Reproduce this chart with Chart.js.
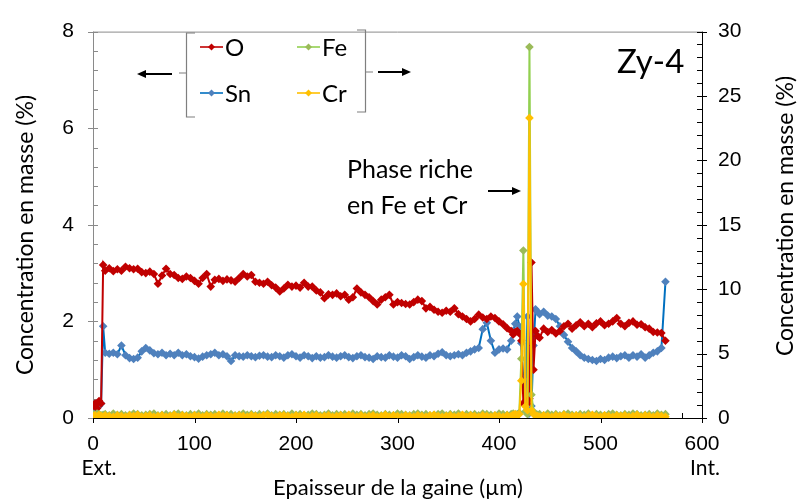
<!DOCTYPE html>
<html>
<head>
<meta charset="utf-8">
<script src="https://cdn.jsdelivr.net/npm/chart.js@4.4.1/dist/chart.umd.min.js"></script>
<style>
  body { margin: 0; background: #fff; }
  #wrap { width: 801px; height: 502px; position: relative; }
</style>
</head>
<body>
<div id="wrap"><canvas id="myChart"></canvas></div>
<script>
// Epaisseur de la gaine (µm)
const positions = [
    0, 2, 4, 6, 8, 10, 12, 16, 20, 24,
    28, 32, 36, 40, 44, 48, 52, 56, 60, 64,
    68, 72, 76, 80, 84, 88, 92, 96, 100, 104,
    108, 112, 116, 120, 124, 128, 132, 136, 140, 144,
    148, 152, 156, 160, 164, 168, 172, 176, 180, 184,
    188, 192, 196, 200, 204, 208, 212, 216, 220, 224,
    228, 232, 236, 240, 244, 248, 252, 256, 260, 264,
    268, 272, 276, 280, 284, 288, 292, 296, 300, 304,
    308, 312, 316, 320, 324, 328, 332, 336, 340, 344,
    348, 352, 356, 360, 364, 368, 372, 376, 380, 384,
    388, 392, 396, 400, 404, 408, 412, 414, 416, 418,
    420, 422, 424, 426, 428, 430, 432, 434, 436, 438,
    440, 444, 448, 452, 456, 460, 464, 468, 472, 476,
    480, 484, 488, 492, 496, 500, 504, 508, 512, 516,
    520, 524, 528, 532, 536, 540, 544, 548, 552, 556,
    560, 564,
];

// O (%) - left axis
const oxygen = [
    0.25, 0.3, 0.2, 0.35, 0.3, 3.17, 3.05, 3.1, 3.04, 3.08,
    3.05, 3.13, 3.1, 3.08, 3.09, 3.02, 3.0, 3.03, 2.98, 2.78,
    2.95, 3.09, 2.98, 2.96, 2.9, 2.88, 2.93, 2.9, 2.84, 2.78,
    2.9, 2.98, 2.72, 2.86, 2.88, 2.84, 2.87, 2.85, 2.82, 2.9,
    2.98, 2.93, 2.96, 2.82, 2.8, 2.78, 2.82, 2.75, 2.7, 2.62,
    2.68, 2.76, 2.72, 2.74, 2.7, 2.8, 2.72, 2.72, 2.64, 2.6,
    2.48, 2.56, 2.55, 2.58, 2.52, 2.55, 2.45, 2.5, 2.68, 2.6,
    2.55, 2.5, 2.42, 2.35, 2.45, 2.5, 2.55, 2.35, 2.4, 2.38,
    2.36, 2.35, 2.4, 2.45, 2.42, 2.27, 2.3, 2.24, 2.2, 2.18,
    2.22, 2.2, 2.27, 2.15, 2.1, 2.05, 2.0, 2.05, 2.14, 2.08,
    2.05, 2.1, 2.07, 2.0, 1.94, 1.86, 1.8, 1.73, 1.78, 1.8,
    1.75, 1.6, 0.3, 0.35, 0.3, 0.4, 3.22, 1.0, 1.8, 1.7,
    1.66, 1.85, 1.78, 1.82, 1.75, 1.8, 1.9, 1.95, 1.85, 1.92,
    1.98, 1.9, 1.95, 1.88, 1.96, 2.0, 1.92, 1.95, 2.0, 2.07,
    1.95, 1.9, 1.97, 2.0, 1.93, 1.94, 1.88, 1.85, 1.78, 1.77,
    1.76, 1.6,
];

// Sn (%) - left axis
const tin = [
    0.15, 0.2, 0.1, 0.25, 0.3, 1.9, 1.35, 1.33, 1.35, 1.32,
    1.5, 1.3, 1.24, 1.22, 1.25, 1.38, 1.45, 1.4, 1.34, 1.32,
    1.35, 1.3, 1.33, 1.3, 1.35, 1.3, 1.32, 1.28, 1.26, 1.23,
    1.27, 1.3, 1.32, 1.35, 1.3, 1.32, 1.28, 1.18, 1.3, 1.28,
    1.27, 1.3, 1.28, 1.26, 1.29, 1.3, 1.27, 1.26, 1.3, 1.28,
    1.25, 1.3, 1.32, 1.28, 1.25, 1.3, 1.28, 1.24, 1.28, 1.25,
    1.26, 1.3, 1.27, 1.25, 1.28, 1.3, 1.26, 1.24, 1.28, 1.3,
    1.26, 1.25, 1.22, 1.28, 1.26, 1.25, 1.3, 1.27, 1.25, 1.3,
    1.28, 1.22, 1.26, 1.3, 1.27, 1.25, 1.3, 1.28, 1.33, 1.36,
    1.3, 1.28, 1.3, 1.32, 1.3, 1.35, 1.38, 1.42, 1.45, 1.84,
    1.97, 1.6, 1.35, 1.42, 1.44, 1.42, 1.6, 1.8, 1.95, 2.1,
    1.9, 1.55, 0.8, 0.3, 2.1, 0.1, 0.25, 1.5, 2.25, 2.2,
    2.15, 2.2, 2.12, 2.1, 2.05, 1.9, 1.72, 1.58, 1.45, 1.38,
    1.3, 1.25, 1.22, 1.2, 1.18, 1.22, 1.2, 1.25, 1.27, 1.24,
    1.28, 1.3, 1.25, 1.3, 1.27, 1.32, 1.25, 1.3, 1.35, 1.38,
    1.45, 2.82,
];

// Fe (%) - right axis
const iron = [
    0.3, 0.25, 0.35, 0.3, 0.2, 0.25, 0.3, 0.2, 0.35, 0.25,
    0.3, 0.2, 0.25, 0.35, 0.3, 0.2, 0.25, 0.3, 0.35, 0.2,
    0.25, 0.3, 0.2, 0.3, 0.35, 0.25, 0.2, 0.3, 0.25, 0.35,
    0.2, 0.3, 0.25, 0.3, 0.2, 0.35, 0.25, 0.3, 0.2, 0.25,
    0.35, 0.25, 0.3, 0.2, 0.3, 0.25, 0.35, 0.2, 0.3, 0.25,
    0.3, 0.2, 0.35, 0.25, 0.3, 0.2, 0.25, 0.35, 0.3, 0.2,
    0.25, 0.35, 0.2, 0.3, 0.25, 0.3, 0.2, 0.35, 0.25, 0.3,
    0.2, 0.3, 0.35, 0.25, 0.2, 0.3, 0.25, 0.2, 0.35, 0.3,
    0.25, 0.2, 0.3, 0.35, 0.25, 0.3, 0.2, 0.25, 0.3, 0.35,
    0.2, 0.3, 0.25, 0.35, 0.2, 0.3, 0.25, 0.3, 0.2, 0.35,
    0.3, 0.25, 0.2, 0.35, 0.3, 0.25, 0.3, 0.35, 0.25, 0.3,
    0.4, 4.6, 13.0, 0.5, 0.3, 28.8, 1.8, 0.5, 0.3, 0.25,
    0.3, 0.2, 0.35, 0.25, 0.3, 0.2, 0.3, 0.35, 0.25, 0.2,
    0.3, 0.25, 0.35, 0.2, 0.3, 0.25, 0.2, 0.3, 0.35, 0.25,
    0.2, 0.3, 0.25, 0.35, 0.3, 0.2, 0.25, 0.3, 0.2, 0.35,
    0.25, 0.3,
];

// Cr (%) - right axis
const chromium = [
    0.15, 0.2, 0.1, 0.25, 0.15, 0.1, 0.2, 0.15, 0.1, 0.2,
    0.15, 0.1, 0.2, 0.15, 0.25, 0.1, 0.15, 0.2, 0.1, 0.15,
    0.2, 0.1, 0.15, 0.25, 0.1, 0.2, 0.15, 0.1, 0.2, 0.15,
    0.1, 0.2, 0.15, 0.1, 0.25, 0.15, 0.2, 0.1, 0.15, 0.2,
    0.15, 0.1, 0.2, 0.15, 0.1, 0.2, 0.25, 0.15, 0.1, 0.2,
    0.2, 0.15, 0.1, 0.2, 0.15, 0.25, 0.1, 0.15, 0.2, 0.1,
    0.15, 0.2, 0.1, 0.15, 0.2, 0.1, 0.25, 0.15, 0.1, 0.2,
    0.1, 0.15, 0.2, 0.1, 0.15, 0.25, 0.1, 0.2, 0.15, 0.1,
    0.2, 0.15, 0.1, 0.2, 0.15, 0.1, 0.2, 0.25, 0.15, 0.1,
    0.15, 0.2, 0.1, 0.15, 0.25, 0.1, 0.2, 0.15, 0.1, 0.2,
    0.15, 0.1, 0.2, 0.15, 0.1, 0.2, 0.15, 0.25, 0.3, 0.2,
    0.3, 2.9, 10.4, 0.9, 0.6, 23.3, 0.6, 0.3, 0.2, 0.15,
    0.1, 0.2, 0.15, 0.1, 0.2, 0.15, 0.25, 0.1, 0.15, 0.2,
    0.15, 0.1, 0.2, 0.25, 0.15, 0.1, 0.2, 0.15, 0.1, 0.2,
    0.15, 0.2, 0.1, 0.15, 0.25, 0.1, 0.2, 0.15, 0.1, 0.2,
    0.15, 0.1,
];

// axis ranges and tick steps
const xRange = [0, 600, 100];
const leftRange = [0, 8, 2];
const rightRange = [0, 30, 5];

const calibri = 'Lato, "Open Sans", sans-serif';
const arial = '"Liberation Sans", Arial, sans-serif';

function points(values) {
    return positions.map((x, i) => ({ x: x, y: values[i] }));
}

function series(label, values, line, marker, axis, order) {
    return {
        label: label,
        data: points(values),
        yAxisID: axis,
        borderColor: line,
        backgroundColor: marker,
        pointBackgroundColor: marker,
        pointBorderColor: marker,
        borderWidth: 2,
        pointStyle: 'rectRot',
        pointRadius: 4.3,
        pointBorderWidth: 0,
        order: order,
    };
}

function arrow(ctx, x1, y, x2) {
    const dir = x2 > x1 ? 1 : -1;
    ctx.strokeStyle = '#000';
    ctx.fillStyle = '#000';
    ctx.lineWidth = 2;
    ctx.beginPath();
    ctx.moveTo(x1, y);
    ctx.lineTo(x2 - dir * 6, y);
    ctx.stroke();
    ctx.beginPath();
    ctx.moveTo(x2, y);
    ctx.lineTo(x2 - dir * 9, y - 4);
    ctx.lineTo(x2 - dir * 9, y + 4);
    ctx.closePath();
    ctx.fill();
}

function legendItem(ctx, x, y, line, marker, label) {
    ctx.strokeStyle = line;
    ctx.lineWidth = 1.6;
    ctx.beginPath();
    ctx.moveTo(x, y);
    ctx.lineTo(x + 23, y);
    ctx.stroke();
    ctx.fillStyle = marker;
    ctx.beginPath();
    ctx.moveTo(x + 11.5, y - 3.5);
    ctx.lineTo(x + 15, y);
    ctx.lineTo(x + 11.5, y + 3.5);
    ctx.lineTo(x + 8, y);
    ctx.closePath();
    ctx.fill();
    ctx.fillStyle = '#000';
    ctx.font = '24px ' + calibri;
    ctx.textAlign = 'left';
    ctx.textBaseline = 'middle';
    ctx.fillText(label, x + 25, y + 1);
}

// axes drawn by hand so that the tick marks point inside like the original
const axesPlugin = {
    id: 'axes',
    beforeDatasetsDraw(chart) {
        const ctx = chart.ctx;
        const { left, right, top, bottom } = chart.chartArea;
        const xs = chart.scales.x, yl = chart.scales.y, yr = chart.scales.y1;
        ctx.save();
        ctx.lineWidth = 1;

        ctx.strokeStyle = '#8a8a8a';
        ctx.beginPath();
        ctx.moveTo(left, top + 0.5); ctx.lineTo(right, top + 0.5);
        ctx.moveTo(left + 0.5, top); ctx.lineTo(left + 0.5, bottom);
        for (let v = leftRange[0]; v <= leftRange[1] + 1e-6; v += 0.4) {
            const y = Math.round(yl.getPixelForValue(v)) + 0.5;
            const major = Math.abs(v / leftRange[2] - Math.round(v / leftRange[2])) < 1e-6;
            ctx.moveTo(major ? left - 5 : left, y);
            ctx.lineTo(left + 5, y);
        }
        ctx.stroke();

        ctx.strokeStyle = '#000';
        ctx.beginPath();
        ctx.moveTo(left, bottom + 0.5); ctx.lineTo(right, bottom + 0.5);
        ctx.moveTo(right + 0.5, top); ctx.lineTo(right + 0.5, bottom);
        for (let v = xRange[0]; v <= xRange[1]; v += 20) {
            const x = Math.round(xs.getPixelForValue(v)) + 0.5;
            const major = v % xRange[2] === 0;
            ctx.moveTo(x, bottom - 5);
            ctx.lineTo(x, major ? bottom + 5 : bottom);
        }
        for (let v = rightRange[0]; v <= rightRange[1]; v += 1) {
            const y = Math.round(yr.getPixelForValue(v)) + 0.5;
            const major = v % rightRange[2] === 0;
            ctx.moveTo(right - 5, y);
            ctx.lineTo(major ? right + 5 : right, y);
        }
        ctx.stroke();
        ctx.restore();
    },
    afterDraw(chart) {
        const ctx = chart.ctx;
        ctx.save();
        ctx.fillStyle = '#000';

        // axis titles
        ctx.font = '22px ' + calibri;
        ctx.textAlign = 'center';
        ctx.textBaseline = 'middle';
        ctx.fillText('Epaisseur de la gaine (µm)', 398, 488);
        ctx.font = '21px ' + calibri;
        ctx.fillText('Ext.', 99, 468);
        ctx.fillText('Int.', 705, 468);

        ctx.font = '23px ' + calibri;
        ctx.save();
        ctx.translate(26, 235);
        ctx.rotate(-Math.PI / 2);
        ctx.fillText('Concentration en masse (%)', 0, 0);
        ctx.restore();
        ctx.save();
        ctx.translate(786, 216);
        ctx.rotate(-Math.PI / 2);
        ctx.fillText('Concentration en masse (%)', 0, 0);
        ctx.restore();

        // sample name
        ctx.font = '33px ' + calibri;
        ctx.textAlign = 'left';
        ctx.fillText('Zy-4', 617, 62);

        // annotation of the intermetallic phase
        ctx.font = '25px ' + calibri;
        ctx.fillText('Phase riche', 347, 170);
        ctx.fillText('en Fe et Cr', 347, 206);
        arrow(ctx, 488, 191, 521);

        // legend with brackets
        legendItem(ctx, 200, 47, '#C00000', '#C00000', 'O');
        legendItem(ctx, 297, 47, '#92D050', '#9BBB59', 'Fe');
        legendItem(ctx, 200, 93, '#0070C0', '#4F81BD', 'Sn');
        legendItem(ctx, 297, 93, '#FFC000', '#FFC000', 'Cr');

        ctx.strokeStyle = '#7f7f7f';
        ctx.lineWidth = 1.2;
        ctx.beginPath();
        ctx.moveTo(195, 33); ctx.lineTo(186.5, 33); ctx.lineTo(186.5, 117); ctx.lineTo(195, 117);
        ctx.moveTo(186.5, 73); ctx.lineTo(179, 73);
        ctx.moveTo(357, 30); ctx.lineTo(365.5, 30); ctx.lineTo(365.5, 112); ctx.lineTo(357, 112);
        ctx.moveTo(365.5, 72); ctx.lineTo(373, 72);
        ctx.stroke();
        arrow(ctx, 172, 74, 137);
        arrow(ctx, 378, 72, 411);

        ctx.restore();
    },
};

const ctx = document.getElementById('myChart').getContext('2d');
const myChart = new Chart(ctx, {
    type: 'line',
    data: {
        datasets: [
            series('O', oxygen, '#C00000', '#C00000', 'y', 3),
            series('Sn', tin, '#0070C0', '#4F81BD', 'y', 4),
            series('Fe', iron, '#92D050', '#9BBB59', 'y1', 2),
            series('Cr', chromium, '#FFC000', '#FFC000', 'y1', 1),
        ],
    },
    options: {
        responsive: true,
        maintainAspectRatio: false,
        animation: false,
        layout: { padding: { top: 27, left: 0, right: 0, bottom: 0 } },
        plugins: {
            legend: { display: false },
            tooltip: { enabled: false },
        },
        scales: {
            x: {
                type: 'linear',
                min: xRange[0],
                max: xRange[1],
                afterFit: s => { s.height = 84; },
                grid: { display: false, drawTicks: false },
                border: { display: false },
                ticks: {
                    stepSize: xRange[2],
                    padding: 14,
                    color: '#000',
                    font: { family: arial, size: 21 },
                    maxRotation: 0,
                },
            },
            y: {
                position: 'left',
                min: leftRange[0],
                max: leftRange[1],
                afterFit: s => { s.width = 93; },
                grid: { display: false, drawTicks: false },
                border: { display: false },
                ticks: {
                    stepSize: leftRange[2],
                    padding: 19,
                    color: '#000',
                    font: { family: arial, size: 21 },
                },
            },
            y1: {
                position: 'right',
                min: rightRange[0],
                max: rightRange[1],
                afterFit: s => { s.width = 99; },
                grid: { display: false, drawTicks: false },
                border: { display: false },
                ticks: {
                    stepSize: rightRange[2],
                    padding: 16,
                    color: '#000',
                    font: { family: arial, size: 21 },
                },
            },
        },
    },
    plugins: [axesPlugin],
});
</script>
</body>
</html>
